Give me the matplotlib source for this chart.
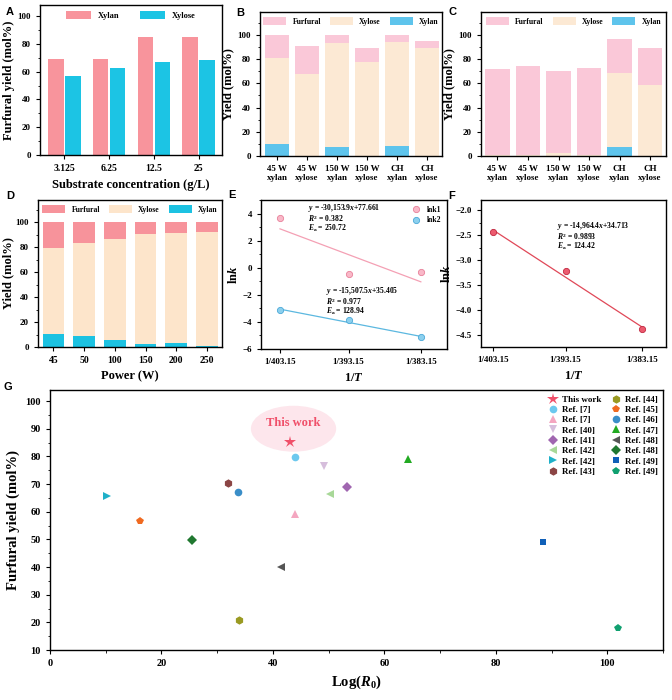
import numpy as np
import matplotlib
matplotlib.use("Agg")
import matplotlib.pyplot as plt
from matplotlib.patches import Ellipse
from matplotlib.ticker import MultipleLocator

plt.rcParams['font.family'] = ['Liberation Serif', 'DejaVu Serif']
plt.rcParams['font.weight'] = 'bold'
plt.rcParams['axes.labelweight'] = 'bold'
plt.rcParams['mathtext.fontset'] = 'custom'
plt.rcParams['mathtext.rm'] = 'Liberation Serif:bold'
plt.rcParams['mathtext.it'] = 'Liberation Serif:bold:italic'
plt.rcParams['mathtext.bf'] = 'Liberation Serif:bold'

# ---- dados ----
# A
conc_labels = ['3.125', '6.25', '12.5', '25']
a_xylan = [68.8, 68.8, 84.8, 85.2]
a_xylose = [56.7, 62.8, 66.7, 68.7]

# B e C
bc_labels = ['45 W\nxylan', '45 W\nxylose', '150 W\nxylan', '150 W\nxylose', 'CH\nxylan', 'CH\nxylose']
b_xylan = [9.8, 0, 7.6, 0, 8.5, 0]
b_xylose = [70.8, 67.7, 85.5, 77.3, 86.0, 89.5]
b_furfural = [19.4, 23.5, 6.9, 11.7, 5.5, 5.5]

c_xylan = [0, 0, 0, 0, 7.6, 0]
c_xylose = [1.0, 0.8, 2.4, 0.6, 61.3, 58.9]
c_furfural = [71.2, 73.3, 67.6, 72.2, 27.8, 30.5]

# D
power_labels = ['45', '50', '100', '150', '200', '250']
d_xylan = [10.5, 8.9, 5.4, 2.7, 3.2, 1.1]
d_xylose = [69.3, 74.4, 81.2, 88.4, 88.7, 91.4]
d_furfural = [20.2, 16.7, 13.4, 8.9, 8.1, 7.5]

# E e F
inv_T = [1/403.15, 1/393.15, 1/383.15]
inv_T_labels = ['1/403.15', '1/393.15', '1/383.15']
lnk1 = [3.7, -0.45, -0.35]
lnk2 = [-3.1, -3.85, -5.1]
lnk1_fit = [2.87, -1.04]
lnk2_fit = [-3.06, -5.07]
f_lnk = [-2.43, -3.21, -4.38]
f_fit = [-2.40, -4.34]

# G
g_labels = ['This work', 'Ref. [7]', 'Ref. [7]', 'Ref. [40]', 'Ref. [41]', 'Ref. [42]', 'Ref. [42]', 'Ref. [43]',
            'Ref. [44]', 'Ref. [45]', 'Ref. [46]', 'Ref. [47]', 'Ref. [48]', 'Ref. [48]', 'Ref. [49]', 'Ref. [49]']
g_logR = [43.1, 44.0, 43.9, 49.1, 53.3, 50.2, 10.2, 31.9,
          34.0, 16.2, 33.7, 64.3, 41.4, 25.5, 88.5, 102.0]
g_yield = [85.3, 79.8, 59.1, 76.5, 68.8, 66.3, 65.7, 70.3,
           21.0, 56.5, 67.0, 79.0, 39.9, 49.9, 49.0, 18.1]
g_markers = ['*', 'o', '^', 'v', 'D', '<', '>', 'h',
             'h', 'p', 'o', '^', '<', 'D', 's', 'p']
g_colors = ['#F0506A', '#6CC8EE', '#F4A6C0', '#D6BEDC', '#A066B0', '#A8D898', '#1FB0C8', '#8B4545',
            '#9A9A22', '#F06A20', '#3A8EC8', '#22AA22', '#555555', '#207830', '#1060B8', '#10A070']
tam = {'*': 13, 'o': 6, '^': 6.2, 'v': 6.2, '<': 6.2, '>': 6.2, 'D': 5, 'h': 6.5, 'p': 6.5, 's': 5.5}
tam_leg = {'*': 9, 'o': 5.5, '^': 5.8, 'v': 5.8, '<': 5.8, '>': 5.8, 'D': 4.8, 'h': 6, 'p': 6, 's': 5}

# ---- figura ----
fig = plt.figure(figsize=(6.72, 7.0), dpi=100)


def rect(l, t, r, b):
    return [l/672, 1 - b/700, (r - l)/672, (b - t)/700]


def estilo(ax, xs=7, ys=6.5):
    for s in ax.spines.values():
        s.set_linewidth(1.0)
    ax.tick_params(direction='out', length=3, width=0.8, labelsize=ys)
    ax.tick_params(axis='x', labelsize=xs)
    ax.tick_params(which='minor', direction='out', length=1.8, width=0.6)


# A
ax = fig.add_axes(rect(40, 5, 222, 155))
x = np.arange(4)
ax.bar(x - 0.19, a_xylan, 0.35, color='#F8949C', label='Xylan')
ax.bar(x + 0.19, a_xylose, 0.35, color='#1CC4E4', label='Xylose')
ax.set_xlim(-0.54, 3.52)
ax.set_ylim(0, 108)
ax.set_xticks(x)
ax.set_xticklabels(conc_labels)
ax.yaxis.set_major_locator(MultipleLocator(20))
ax.yaxis.set_minor_locator(MultipleLocator(10))
ax.set_ylabel('Furfural yield (mol%)', fontsize=9, labelpad=2)
ax.set_xlabel('Substrate concentration (g/L)', fontsize=9)
ax.legend(loc='upper center', ncol=2, frameon=False, fontsize=6, handlelength=3,
          handleheight=1.2, columnspacing=2.5, borderaxespad=0.3)
estilo(ax)


def empilhado(ax, xyl, xyo, fur, cores, labels, xlim, ylim, w=0.8):
    x = np.arange(len(xyl))
    ax.bar(x, xyl, w, color=cores[2], label='Xylan')
    ax.bar(x, xyo, w, bottom=xyl, color=cores[1], label='Xylose')
    base = np.array(xyl) + np.array(xyo)
    ax.bar(x, fur, w, bottom=base, color=cores[0], label='Furfural')
    ax.set_xlim(*xlim)
    ax.set_ylim(*ylim)
    ax.set_xticks(x)
    ax.set_xticklabels(labels)
    ax.yaxis.set_major_locator(MultipleLocator(20))
    ax.yaxis.set_minor_locator(MultipleLocator(10))
    h, l = ax.get_legend_handles_labels()
    ax.legend(h[::-1], l[::-1], loc='upper center', ncol=3, frameon=False, fontsize=5.5,
              handlelength=3, handleheight=1.2, columnspacing=1.2, borderaxespad=0.3)


cores_bc = ['#FAC8D8', '#FCE9D4', '#5EC4EC']
ax = fig.add_axes(rect(260, 12, 442, 156))
empilhado(ax, b_xylan, b_xylose, b_furfural, cores_bc, bc_labels, (-0.57, 5.5), (0, 119))
ax.set_ylabel('Yield (mol%)', fontsize=9, labelpad=2)
estilo(ax, xs=6.5)

ax = fig.add_axes(rect(481, 12, 666, 156))
empilhado(ax, c_xylan, c_xylose, c_furfural, cores_bc, bc_labels, (-0.54, 5.52), (0, 119))
ax.set_ylabel('Yield (mol%)', fontsize=9, labelpad=2)
estilo(ax, xs=6.5)

# D
ax = fig.add_axes(rect(38, 200, 222, 347))
empilhado(ax, d_xylan, d_xylose, d_furfural, ['#F7939B', '#FDE5CB', '#1CC2E2'], power_labels,
          (-0.5, 5.49), (0, 118), w=0.7)
ax.set_ylabel('Yield (mol%)', fontsize=9, labelpad=1)
ax.set_xlabel('Power (W)', fontsize=9)
estilo(ax)

# E
ax = fig.add_axes(rect(261, 200, 447, 349))
ax.plot([inv_T[0], inv_T[2]], lnk1_fit, color='#F4A0B4', lw=0.9)
ax.plot([inv_T[0], inv_T[2]], lnk2_fit, color='#5CB8E0', lw=0.9)
ax.plot(inv_T, lnk1, 'o', ms=4.5, mfc='#F9B8C8', mec='#E8809A', mew=0.6, label='lnk1')
ax.plot(inv_T, lnk2, 'o', ms=4.5, mfc='#8CD0EE', mec='#4AA8D8', mew=0.6, label='lnk2')
ax.set_xlim(0.002463, 0.002634)
ax.set_ylim(-6, 5)
ax.set_xticks(inv_T)
ax.set_xticklabels(inv_T_labels)
ax.yaxis.set_major_locator(MultipleLocator(2))
ax.yaxis.set_minor_locator(MultipleLocator(1))
ax.set_ylabel(r'ln$\mathit{k}$', fontsize=9, labelpad=2)
ax.set_xlabel(r'1/$\mathit{T}$', fontsize=9)
ax.legend(loc='upper right', frameon=False, fontsize=5.5, handletextpad=0.3, borderaxespad=0.4,
          labelspacing=0.3)
kw = dict(transform=ax.transAxes, fontsize=5.5, va='center')
ax.text(0.253, 0.945, r'$\mathit{y}$ = -30,153.9$\mathit{x}$+77.661', **kw)
ax.text(0.253, 0.877, r'$\mathit{R}^2$ = 0.382', **kw)
ax.text(0.253, 0.807, r'$\mathit{E}_\mathrm{a}$ = 250.72', **kw)
ax.text(0.35, 0.388, r'$\mathit{y}$ = -15,507.5$\mathit{x}$+35.405', **kw)
ax.text(0.35, 0.318, r'$\mathit{R}^2$ = 0.977', **kw)
ax.text(0.35, 0.25, r'$\mathit{E}_\mathrm{a}$ = 128.94', **kw)
estilo(ax, xs=6.5)

# F
ax = fig.add_axes(rect(481, 200, 666, 347))
ax.plot([inv_T[0], inv_T[2]], f_fit, color='#E04858', lw=0.9)
ax.plot(inv_T, f_lnk, 'o', ms=4.5, mfc='#EC5A6E', mec='#C02840', mew=0.6)
ax.set_xlim(0.002470, 0.0026308)
ax.set_ylim(-4.74, -1.8)
ax.set_xticks(inv_T)
ax.set_xticklabels(inv_T_labels)
ax.yaxis.set_major_locator(MultipleLocator(0.5))
ax.yaxis.set_minor_locator(MultipleLocator(0.25))
ax.set_ylabel(r'ln$\mathit{k}$', fontsize=9, labelpad=2)
ax.set_xlabel(r'1/$\mathit{T}$', fontsize=9)
kw = dict(transform=ax.transAxes, fontsize=5.5, va='center')
ax.text(0.41, 0.82, r'$\mathit{y}$ = -14,964.4$\mathit{x}$+34.713', **kw)
ax.text(0.41, 0.752, r'$\mathit{R}^2$ = 0.9893', **kw)
ax.text(0.41, 0.682, r'$\mathit{E}_\mathrm{a}$ = 124.42', **kw)
estilo(ax, xs=6.5)

# G
ax = fig.add_axes(rect(50, 390, 663, 650))
ax.add_patch(Ellipse((43.7, 90.0), 15.3, 16.6, facecolor='#FDE6EC', edgecolor='none', zorder=1))
ax.text(43.6, 92.0, 'This work', color='#F0506A', fontsize=9, ha='center', va='center', zorder=2)
for i in range(len(g_labels)):
    ax.plot(g_logR[i], g_yield[i], g_markers[i], color=g_colors[i], ms=tam[g_markers[i]], mew=0,
            label=g_labels[i], zorder=3)
ax.set_xlim(0, 110)
ax.set_ylim(10, 104)
ax.xaxis.set_major_locator(MultipleLocator(20))
ax.xaxis.set_minor_locator(MultipleLocator(10))
ax.yaxis.set_major_locator(MultipleLocator(10))
ax.yaxis.set_minor_locator(MultipleLocator(5))
ax.set_ylabel('Furfural yield (mol%)', fontsize=10.5)
ax.set_xlabel(r'Log($\mathit{R}_\mathrm{0}$)', fontsize=10.5)
h, l = ax.get_legend_handles_labels()
for hh in h:
    hh.set_markersize(tam_leg[hh.get_marker()])
ax.legend(h, l, loc='upper right', ncol=2, frameon=False, fontsize=6.5, handletextpad=0.4,
          columnspacing=1.0, labelspacing=0.22, borderaxespad=0.2, handlelength=1.2)
estilo(ax, xs=7.5, ys=7.5)

for letra, px, py in [('A', 10, 12), ('B', 240, 13), ('C', 452, 12), ('D', 10, 196),
                      ('E', 232, 195), ('F', 452, 196), ('G', 8, 387)]:
    fig.text(px/672, 1 - py/700, letra, fontsize=8, fontweight='bold',
             family='Liberation Sans', ha='center', va='center')

fig.savefig('out.png', dpi=100)
